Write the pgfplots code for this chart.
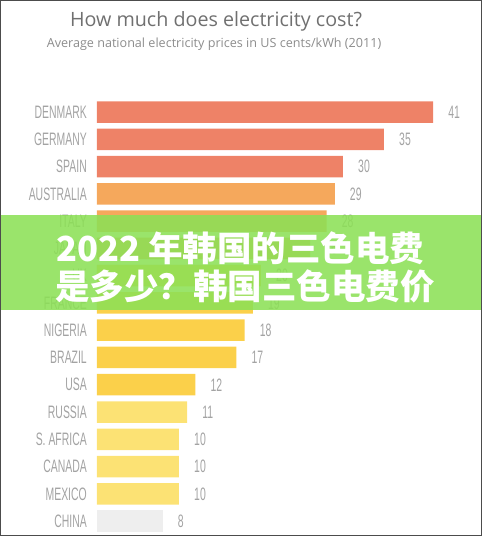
\documentclass[border=0pt]{standalone}
\usepackage{pgfplots}
\pgfplotsset{compat=1.18}
\usepackage{fontspec}
\setmainfont{Open Sans}
\newfontfamily\cond[FakeStretch=0.58]{Liberation Sans}
\newfontfamily\cjk{Noto Sans CJK SC}
\definecolor{salmon}{HTML}{EE8267}
\definecolor{orng}{HTML}{F5A85C}
\definecolor{gold}{HTML}{FBD04A}
\definecolor{lyel}{HTML}{FCE274}
\definecolor{lgray}{HTML}{EEEEEE}
\definecolor{labgray}{HTML}{A3A3A3}
\definecolor{titgray}{HTML}{707070}
\definecolor{subgray}{HTML}{8C8C8C}
\definecolor{banner}{RGB}{140,224,86}
\begin{document}
\begin{tikzpicture}
\useasboundingbox (0,0) rectangle (482pt,-536pt);
\node[anchor=base, text=titgray, font=\fontsize{19.7}{19.7}\selectfont] at (216pt,-26pt) {How much does electricity cost?};
\node[anchor=base, text=subgray, font=\fontsize{12.6}{12.6}\selectfont] at (214pt,-47pt) {Average national electricity prices in US cents/kWh (2011)};
\begin{axis}[
  at={(97pt,-98.4pt)}, anchor=north west,
  scale only axis, width=377.2pt, height=436.3pt,
  xmin=0, xmax=46, ymin=-0.5, ymax=15.5, y dir=reverse,
  xbar, bar width=21.5pt, bar shift=0pt,
  hide x axis, axis y line*=left, y axis line style={draw=none},
  ytick={0,...,15},
  yticklabels={DENMARK,GERMANY,SPAIN,AUSTRALIA,ITALY,JAPAN,UK,FRANCE,NIGERIA,BRAZIL,USA,RUSSIA,S. AFRICA,CANADA,MEXICO,CHINA},
  major tick length=0pt,
  yticklabel style={font=\cond\fontsize{18}{18}\selectfont, text=labgray, anchor=east, inner sep=0pt, xshift=-10pt},
  /pgf/number format/assume math mode=true,
  nodes near coords,
  every node near coord/.append style={font=\cond\fontsize{18}{18}\selectfont, text=labgray, anchor=west, inner sep=0pt, xshift=15pt},
  clip=false,
]
\addplot[draw=none, fill=salmon] coordinates {(41,0) (35,1) (30,2)};
\addplot[draw=none, fill=orng] coordinates {(29,3) (28,4) (26,5)};
\addplot[draw=none, fill=gold] coordinates {(20,6) (19,7) (18,8) (17,9) (12,10)};
\addplot[draw=none, fill=lyel] coordinates {(11,11) (10,12) (10,13) (10,14)};
\addplot[draw=none, fill=lgray] coordinates {(8,15)};
\end{axis}
\fill[banner, opacity=0.88] (0,-215pt) rectangle (482pt,-310pt);
\node[anchor=base west, text=white, inner sep=0pt, font=\cjk\bfseries\fontsize{34.5}{34.5}\selectfont] at (56pt,-261pt) {2022 年韩国的三色电费};
\node[anchor=base west, text=white, inner sep=0pt, font=\cjk\bfseries\fontsize{34.5}{34.5}\selectfont] at (55pt,-299pt) {是多少？韩国三色电费价};
\draw[black!70, line width=1pt] (0.5pt,-0.5pt) rectangle (481.5pt,-535.5pt);
\end{tikzpicture}
\end{document}
